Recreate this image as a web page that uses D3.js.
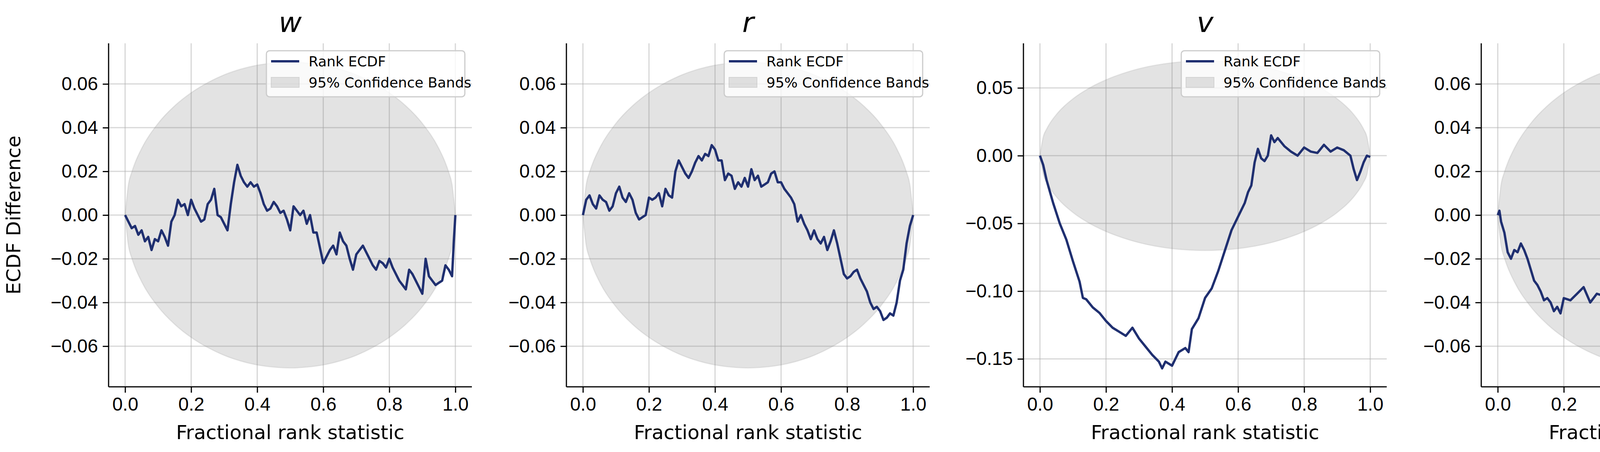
<!DOCTYPE html>
<html>
<head>
<meta charset="utf-8">
<script src="https://cdn.jsdelivr.net/npm/d3@7"></script>
<style>
  body { margin: 0; background: #fff; }
  svg { font-family: "DejaVu Sans", sans-serif; }
</style>
</head>
<body>
<div id="chart"></div>
<script>
// panel titles
const titles = ["w", "r", "v", "η"];

// 95% band half-width, symmetric around 0
const bandX = [0, 0.01, 0.02, 0.03, 0.05, 0.1, 0.15, 0.2, 0.25, 0.3, 0.35, 0.4, 0.45, 0.5,
               0.55, 0.6, 0.65, 0.7, 0.75, 0.8, 0.85, 0.9, 0.95, 0.97, 0.98, 0.99, 1];
const bandHalf = [0, 0.014, 0.0196, 0.0239, 0.0305, 0.042, 0.05, 0.056, 0.0606, 0.0642, 0.0668, 0.0686, 0.0696, 0.07,
                  0.0696, 0.0686, 0.0668, 0.0642, 0.0606, 0.056, 0.05, 0.042, 0.0305, 0.0239, 0.0196, 0.014, 0];

// rank ECDF differences
const wX = [0,.01,.02,.03,.04,.05,.06,.07,.08,.09,.10,.11,.12,.13,.14,.15,.16,.17,.18,.19,.20,.21,.22,.23,.24,.25,.26,.27,.28,.29,.30,.31,.32,.33,.34,.35,.36,.37,.38,.39,.40,.41,.42,.43,.44,.45,.46,.47,.48,.49,.50,.51,.52,.53,.54,.55,.56,.57,.58,.59,.60,.61,.62,.63,.64,.65,.66,.67,.68,.69,.70,.71,.72,.73,.74,.75,.76,.77,.78,.79,.80,.81,.82,.83,.84,.85,.86,.87,.88,.89,.90,.91,.92,.93,.94,.95,.96,.97,.98,.99,.995,1];
const wY = [0,-.003,-.006,-.005,-.009,-.007,-.012,-.010,-.016,-.011,-.012,-.007,-.010,-.014,-.003,0,.007,.004,.005,0,.007,.003,0,-.003,-.002,.005,.007,.012,.0,-.001,-.004,-.007,.005,.015,.023,.018,.015,.013,.015,.013,.014,.010,.005,.002,.003,.006,.004,.001,.002,-.002,-.007,.004,.002,.0,.002,-.004,.0,-.008,-.008,-.015,-.022,-.019,-.016,-.014,-.018,-.008,-.012,-.014,-.020,-.025,-.018,-.016,-.014,-.017,-.020,-.023,-.025,-.021,-.022,-.024,-.020,-.024,-.027,-.030,-.032,-.034,-.025,-.027,-.030,-.033,-.036,-.020,-.028,-.030,-.032,-.031,-.030,-.023,-.025,-.028,-.013,0];

const rX = [0,.01,.02,.03,.04,.05,.06,.07,.08,.09,.10,.11,.12,.13,.14,.15,.16,.17,.18,.19,.20,.21,.22,.23,.24,.25,.26,.27,.28,.29,.30,.31,.32,.33,.34,.35,.36,.37,.38,.39,.40,.41,.42,.43,.44,.45,.46,.47,.48,.49,.50,.51,.52,.53,.54,.55,.56,.57,.58,.59,.60,.61,.62,.63,.64,.65,.66,.67,.68,.69,.70,.71,.72,.73,.74,.75,.76,.77,.78,.79,.80,.81,.82,.83,.84,.85,.86,.87,.88,.89,.90,.91,.92,.93,.94,.95,.96,.97,.98,.99,1];
const rY = [0,.007,.009,.005,.003,.009,.007,.006,.002,.004,.010,.013,.008,.006,.010,.007,.001,-.002,-.001,0,.008,.007,.008,.010,.004,.012,.009,.008,.020,.025,.022,.019,.017,.020,.024,.027,.025,.028,.027,.032,.030,.025,.025,.016,.019,.018,.012,.015,.013,.017,.013,.021,.016,.018,.013,.014,.015,.019,.020,.015,.015,.012,.010,.008,.005,-.003,0,-.004,-.007,-.011,-.007,-.011,-.013,-.010,-.016,-.012,-.007,-.013,-.020,-.027,-.029,-.028,-.026,-.025,-.029,-.032,-.035,-.040,-.043,-.042,-.044,-.048,-.047,-.045,-.046,-.040,-.030,-.025,-.013,-.005,0];

const vX = [0,.01,.02,.04,.06,.08,.10,.12,.13,.14,.16,.18,.20,.22,.24,.26,.28,.30,.32,.34,.36,.37,.38,.40,.41,.42,.44,.45,.46,.48,.50,.52,.54,.56,.58,.60,.62,.63,.64,.65,.66,.67,.68,.69,.70,.71,.72,.74,.76,.78,.80,.82,.84,.86,.88,.90,.92,.94,.95,.96,.97,.98,.99,1];
const vY = [0,-.007,-.018,-.035,-.050,-.062,-.078,-.093,-.105,-.106,-.112,-.116,-.122,-.127,-.130,-.133,-.127,-.135,-.141,-.147,-.152,-.157,-.152,-.155,-.150,-.145,-.142,-.145,-.128,-.120,-.105,-.098,-.085,-.070,-.055,-.045,-.035,-.027,-.022,-.005,.005,-.002,-.004,0,.015,.010,.013,.007,.003,0,.006,.003,.002,.008,.003,.006,.004,0,-.010,-.018,-.012,-.005,0,-.001];

const eX = [0,.005,.01,.02,.03,.04,.05,.06,.07,.08,.09,.10,.11,.12,.13,.14,.15,.16,.17,.18,.19,.20,.22,.24,.26,.28,.30,.32,.33,.34,.35,.36,.37,.38,.39,.40,.42,.44,.45,.46,.48,.50,.51,.52,.54,.56,.57,.58,.60,.62,.64,.66,.68,.70,.72,.74,.76,.78,.80,.82,.84,.85,.86,.87,.88,.90,.92,.93,.94,.95,.96,.97,.98,.99,1];
const eY = [0,.002,-.003,-.008,-.017,-.020,-.016,-.017,-.013,-.016,-.020,-.025,-.030,-.032,-.035,-.039,-.038,-.040,-.044,-.042,-.045,-.038,-.039,-.036,-.033,-.040,-.036,-.037,-.040,-.045,-.048,-.050,-.056,-.058,-.062,-.058,-.055,-.050,-.045,-.048,-.044,-.043,-.050,-.060,-.062,-.063,-.057,-.050,-.043,-.040,-.032,-.039,-.042,-.036,-.040,-.047,-.040,-.038,-.035,-.025,-.020,-.022,-.030,-.038,-.027,-.030,-.030,-.034,-.042,-.028,-.018,-.010,-.007,-.004,0];

const seriesX = [wX, rX, vX, eX];
const seriesY = [wY, rY, vY, eY];
const yDomains = [[-0.0786, 0.0786], [-0.0786, 0.0786], [-0.1706, 0.0829], [-0.0786, 0.0786]];
const yTicks = [[-0.06, -0.04, -0.02, 0, 0.02, 0.04, 0.06], [-0.06, -0.04, -0.02, 0, 0.02, 0.04, 0.06],
                [-0.15, -0.10, -0.05, 0, 0.05], [-0.06, -0.04, -0.02, 0, 0.02, 0.04, 0.06]];
const xTicks = [0, 0.2, 0.4, 0.6, 0.8, 1.0];

const W = 4746, H = 1158;
const panelLeft = [278, 1450, 2620, 3792];
const panelW = 930, plotTop = 111, plotBottom = 991;
const lineColor = "#1f2f70";

const svg = d3.select("#chart").append("svg").attr("width", W).attr("height", H);
const minus = s => s.replace("-", "\u2212");

titles.forEach((t, i) => {
  const g = svg.append("g").attr("transform", `translate(${panelLeft[i]},0)`);
  const x = d3.scaleLinear().domain([-0.05, 1.05]).range([0, panelW]);
  const y = d3.scaleLinear().domain(yDomains[i]).range([plotBottom, plotTop]);

  // grid
  g.append("g").selectAll("line").data(xTicks).join("line")
    .attr("x1", d => x(d)).attr("x2", d => x(d)).attr("y1", plotTop).attr("y2", plotBottom)
    .attr("stroke", "#b0b0b0").attr("stroke-opacity", 0.5).attr("stroke-width", 3);
  g.append("g").selectAll("line").data(yTicks[i]).join("line")
    .attr("x1", 0).attr("x2", panelW).attr("y1", d => y(d)).attr("y2", d => y(d))
    .attr("stroke", "#b0b0b0").attr("stroke-opacity", 0.5).attr("stroke-width", 3);

  // band
  const area = d3.area().curve(d3.curveMonotoneX)
    .x((d, j) => x(bandX[j])).y0(d => y(-d)).y1(d => y(d));
  g.append("path").datum(bandHalf).attr("d", area)
    .attr("fill", "#7f7f7f").attr("fill-opacity", 0.22)
    .attr("stroke", "#7f7f7f").attr("stroke-opacity", 0.15).attr("stroke-width", 3);

  // ECDF line
  const line = d3.line().x((d, j) => x(seriesX[i][j])).y(d => y(d));
  g.append("path").datum(seriesY[i]).attr("d", line)
    .attr("fill", "none").attr("stroke", lineColor).attr("stroke-width", 6)
    .attr("stroke-linejoin", "round");

  // axes
  const ax = g.append("g").attr("transform", `translate(0,${plotBottom})`)
    .call(d3.axisBottom(x).tickValues(xTicks).tickFormat(d3.format(".1f")).tickSize(15).tickPadding(12));
  const ay = g.append("g")
    .call(d3.axisLeft(y).tickValues(yTicks[i]).tickFormat(d => minus(d3.format(".2f")(d))).tickSize(15).tickPadding(12));
  [ax, ay].forEach(a => {
    a.select(".domain").attr("stroke-width", 3);
    a.selectAll(".tick line").attr("stroke-width", 3);
    a.selectAll(".tick text").attr("font-size", 48).attr("fill", "#000");
  });
  ax.select(".domain").attr("d", `M0,0H${panelW}`);
  ay.select(".domain").attr("d", `M0,${plotTop}V${plotBottom}`);

  g.append("text").attr("x", panelW / 2).attr("y", 1125).attr("text-anchor", "middle")
    .attr("font-size", 50).text("Fractional rank statistic");
  g.append("text").attr("x", panelW / 2).attr("y", 82).attr("text-anchor", "middle")
    .attr("font-size", 72).attr("font-style", "italic").text(t);

  // legend
  const lg = g.append("g").attr("transform", `translate(${panelW - 526},${130})`);
  lg.append("rect").attr("width", 508).attr("height", 118).attr("rx", 8)
    .attr("fill", "#fff").attr("fill-opacity", 0.8).attr("stroke", "#cccccc").attr("stroke-width", 3);
  lg.append("line").attr("x1", 12).attr("x2", 84).attr("y1", 27).attr("y2", 27)
    .attr("stroke", lineColor).attr("stroke-width", 6);
  lg.append("rect").attr("x", 12).attr("y", 68).attr("width", 72).attr("height", 26)
    .attr("fill", "#7f7f7f").attr("fill-opacity", 0.22).attr("stroke", "#7f7f7f").attr("stroke-opacity", 0.2).attr("stroke-width", 2);
  lg.append("text").attr("x", 108).attr("y", 40).attr("font-size", 36).text("Rank ECDF");
  lg.append("text").attr("x", 108).attr("y", 94).attr("font-size", 36).text("95% Confidence Bands");
});

svg.append("text").attr("transform", `translate(52,${(plotTop + plotBottom) / 2}) rotate(-90)`)
  .attr("text-anchor", "middle").attr("font-size", 50).text("ECDF Difference");
</script>
</body>
</html>
